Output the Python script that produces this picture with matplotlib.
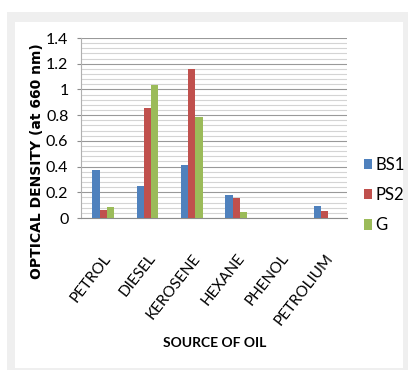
import matplotlib
matplotlib.use("Agg")
import matplotlib.pyplot as plt
import numpy as np
from matplotlib.patches import Rectangle
from matplotlib.ticker import MultipleLocator

# ------
# DATA
# ------
sources = ["PETROL", "DIESEL", "KEROSENE", "HEXANE", "PHENOL", "PETROLIUM"]
bs1 = [0.376, 0.25, 0.415, 0.18, 0.0, 0.093]
ps2 = [0.062, 0.858, 1.16, 0.158, 0.0, 0.057]
g = [0.083, 1.037, 0.788, 0.047, 0.0, 0.0]
series_names = ["BS1", "PS2", "G"]
y_ticks = [0, 0.2, 0.4, 0.6, 0.8, 1, 1.2, 1.4]

colors = ["#4F81BD", "#C0504D", "#9BBB59"]
narrow = ["Lato", "DejaVu Sans"]

# ------
# FIGURE
# ------
fig = plt.figure(figsize=(4.08, 3.70), dpi=100)
W, H = 408, 370

# grey frame around the white panel
fig.patches.append(Rectangle((7 / W, 0), 1 - 7 / W, 1 - 12 / H, transform=fig.transFigure,
                             facecolor="#efefef", edgecolor="none", zorder=-10))
fig.patches.append(Rectangle((15 / W, 2.5 / H), (403 - 15) / W, (367.5 - 22) / H,
                             transform=fig.transFigure, facecolor="white",
                             edgecolor="none", zorder=-9))

ax = fig.add_axes([81 / W, 1 - 218 / H, (347 - 81) / W, 180 / H])
ax.patch.set_alpha(0)

x = np.arange(len(sources))
width = 0.165
for i, (vals, name) in enumerate(zip([bs1, ps2, g], series_names)):
    ax.bar(x + (i - 1) * width, vals, width, color=colors[i], label=name, zorder=3)

ax.set_xlim(-0.5, len(sources) - 0.5)
ax.set_ylim(0, 1.4)
ax.set_yticks(y_ticks)
ax.set_yticklabels([f"{t:g}" for t in y_ticks], fontsize=11.5, family=narrow)
ax.yaxis.set_minor_locator(MultipleLocator(0.04))

ax.set_xticks(x)
ax.set_xticklabels(sources, rotation=52, ha="right", rotation_mode="anchor",
                   fontsize=11, family=narrow)
ax.tick_params(axis="x", length=0, pad=24)
ax.tick_params(axis="y", which="major", length=3, color="#8c8c8c", pad=6)
ax.tick_params(axis="y", which="minor", length=0)

ax.yaxis.grid(True, which="major", color="#999999", linewidth=0.8, zorder=0)
ax.yaxis.grid(True, which="minor", color="#d4d4d4", linewidth=0.8, zorder=0)
ax.set_axisbelow(True)

for side in ["top", "right"]:
    ax.spines[side].set_visible(False)
ax.spines["left"].set_color("#b0b0b0")
ax.spines["bottom"].set_color("#8c8c8c")

fig.text(37 / W, 1 - 161 / H, "OPTICAL DENSITY (at 660 nm)", rotation=90,
         fontweight="bold", fontsize=10, ha="center", va="center")
fig.text(215 / W, 1 - 343 / H, "SOURCE OF OIL", fontweight="bold", fontsize=10,
         family=narrow, ha="center", va="center")

ax.legend(loc="center left", bbox_to_anchor=(1.04, 0.128), frameon=False,
          prop={"family": narrow, "size": 12}, handlelength=0.45, handleheight=0.6,
          handletextpad=0.2, labelspacing=0.85, borderaxespad=0)

fig.savefig("out.png", dpi=100)
